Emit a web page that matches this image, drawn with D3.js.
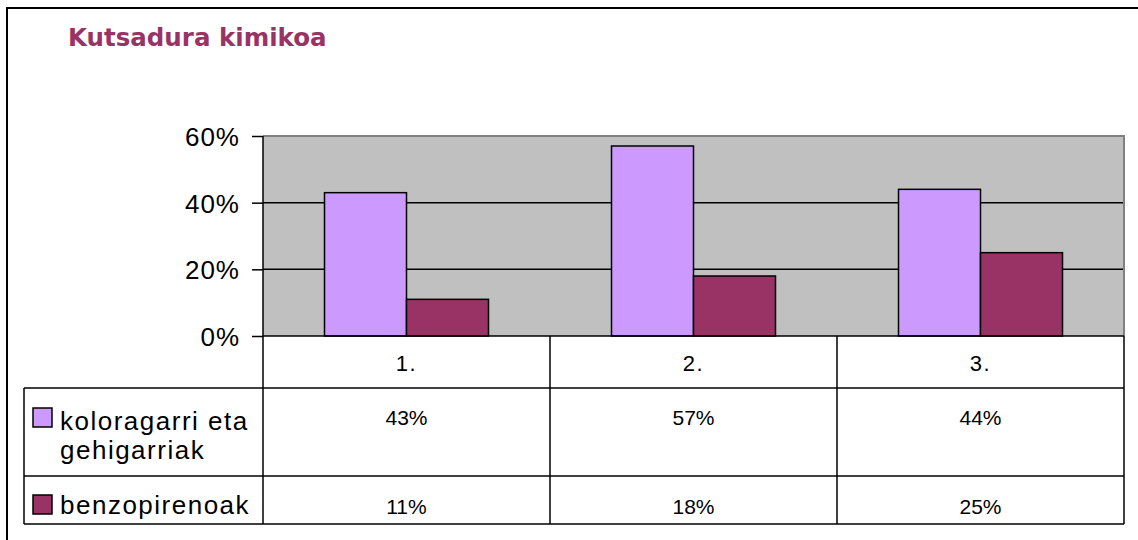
<!DOCTYPE html>
<html>
<head>
<meta charset="utf-8">
<script src="https://cdn.jsdelivr.net/npm/d3@7"></script>
<style>
  body { margin: 0; background: #fff; }
  svg text { font-family: "Liberation Sans", Arial, sans-serif; fill: #000; }
  .title { font-family: "DejaVu Sans", Verdana, sans-serif; font-weight: bold; fill: #993366; }
</style>
</head>
<body>
<div id="chart"></div>
<script>
var categories = ["1.", "2.", "3."];
var seriesNames = ["koloragarri eta gehigarriak", "benzopirenoak"];
var seriesLines = [["koloragarri eta", "gehigarriak"], ["benzopirenoak"]];
var koloragarri = [43, 57, 44];
var benzopirenoak = [11, 18, 25];
var yTicks = [0, 20, 40, 60];
var colors = ["#CC99FF", "#993366"];

function drawChart(div) {

  var width = 1138, height = 540;

  // Plot area and data table boundaries
  var plot = { left: 263, right: 1124, top: 136, bottom: 336 };
  var table = { left: 24, rowCat: 388, rowA: 476, rowB: 524 };

  var svg = d3.select(div)
    .append("svg")
    .attr("width", width)
    .attr("height", height);

  // Outer frame
  svg.append("rect")
    .attr("x", 7)
    .attr("y", 8)
    .attr("width", 1160)
    .attr("height", 560)
    .attr("fill", "none")
    .attr("stroke", "#000")
    .attr("stroke-width", 2);

  svg.append("text")
    .attr("class", "title")
    .attr("x", 68)
    .attr("y", 46)
    .style("font-size", "24.5px")
    .text("Kutsadura kimikoa");

  // Scales
  var yScale = d3.scaleLinear()
    .domain([0, 60])
    .range([plot.bottom, plot.top]);

  var x0 = d3.scaleBand()
    .domain(categories)
    .range([plot.left, plot.right]);

  var x1 = d3.scaleBand()
    .domain(seriesNames)
    .range([0, x0.bandwidth()])
    .paddingInner(0)
    .paddingOuter(0.75);

  var values = [koloragarri, benzopirenoak];

  // Plot background
  svg.append("rect")
    .attr("x", plot.left)
    .attr("y", plot.top)
    .attr("width", plot.right - plot.left)
    .attr("height", plot.bottom - plot.top)
    .attr("fill", "#C0C0C0");

  // Gridlines
  svg.selectAll(".grid")
    .data(yTicks.filter(function(d) { return d > 0 && d < 60; }))
    .enter().append("line")
    .attr("class", "grid")
    .attr("x1", plot.left)
    .attr("x2", plot.right)
    .attr("y1", function(d) { return yScale(d); })
    .attr("y2", function(d) { return yScale(d); })
    .attr("stroke", "#000")
    .attr("stroke-width", 1.5);

  // Gray top and right border of plot
  svg.append("path")
    .attr("d", "M" + plot.left + "," + plot.top + "H" + plot.right + "V" + plot.bottom)
    .attr("fill", "none")
    .attr("stroke", "#808080")
    .attr("stroke-width", 2);

  // Bars
  seriesNames.forEach(function(name, si) {
    svg.selectAll(".bar-" + si)
      .data(values[si])
      .enter().append("rect")
      .attr("class", "bar-" + si)
      .attr("x", function(d, i) { return x0(categories[i]) + x1(name); })
      .attr("y", function(d) { return yScale(d); })
      .attr("width", x1.bandwidth())
      .attr("height", function(d) { return yScale(0) - yScale(d); })
      .attr("fill", colors[si])
      .attr("stroke", "#000")
      .attr("stroke-width", 1.5);
  });

  // Y axis
  var yAxis = d3.axisLeft(yScale)
    .tickValues(yTicks)
    .tickSizeInner(11)
    .tickSizeOuter(0)
    .tickPadding(12)
    .tickFormat(function(d) { return d + "%"; });

  var yG = svg.append("g")
    .attr("class", "axis y-axis")
    .attr("transform", "translate(" + plot.left + ",0)")
    .call(yAxis);

  yG.select(".domain").remove();
  yG.selectAll(".tick line").attr("stroke", "#000").attr("stroke-width", 1.5);
  yG.selectAll(".tick text")
    .attr("dy", "0.36em")
    .style("font-family", "'Liberation Sans', Arial, sans-serif")
    .style("font-size", "26px")
    .style("letter-spacing", "1px")
    .attr("fill", "#000");

  // Table lines
  var lines = svg.append("g")
    .attr("stroke", "#000")
    .attr("stroke-width", 1.5)
    .attr("fill", "none");

  // Axis line continues down through the table
  lines.append("line")
    .attr("x1", plot.left).attr("x2", plot.left)
    .attr("y1", plot.top).attr("y2", table.rowB);

  lines.append("line")
    .attr("x1", plot.left).attr("x2", plot.right)
    .attr("y1", plot.bottom).attr("y2", plot.bottom);

  lines.selectAll(".vdiv")
    .data(categories)
    .enter().append("line")
    .attr("class", "vdiv")
    .attr("x1", function(d) { return x0(d) + x0.bandwidth(); })
    .attr("x2", function(d) { return x0(d) + x0.bandwidth(); })
    .attr("y1", plot.bottom)
    .attr("y2", table.rowB);

  lines.append("line")
    .attr("x1", table.left).attr("x2", table.left)
    .attr("y1", table.rowCat).attr("y2", table.rowB);

  lines.selectAll(".hrow")
    .data([table.rowCat, table.rowA, table.rowB])
    .enter().append("line")
    .attr("class", "hrow")
    .attr("x1", table.left)
    .attr("x2", plot.right)
    .attr("y1", function(d) { return d; })
    .attr("y2", function(d) { return d; });

  // Category labels
  svg.selectAll(".cat-label")
    .data(categories)
    .enter().append("text")
    .attr("class", "cat-label")
    .attr("x", function(d) { return x0(d) + x0.bandwidth() / 2; })
    .attr("y", 371)
    .attr("text-anchor", "middle")
    .style("font-size", "22px")
    .style("letter-spacing", "1.5px")
    .text(function(d) { return d; });

  // Row values
  var rowBaselines = [425, 514];
  seriesNames.forEach(function(name, si) {
    svg.selectAll(".val-" + si)
      .data(values[si])
      .enter().append("text")
      .attr("class", "val-" + si)
      .attr("x", function(d, i) { return x0(categories[i]) + x0.bandwidth() / 2; })
      .attr("y", rowBaselines[si])
      .attr("text-anchor", "middle")
      .style("font-size", "21px")
      .text(function(d) { return d + "%"; });
  });

  // Legend keys and names
  var keyTops = [408, 495];
  var labelBaselines = [[430, 459], [514]];
  seriesNames.forEach(function(name, si) {
    svg.append("rect")
      .attr("x", 33)
      .attr("y", keyTops[si])
      .attr("width", 19)
      .attr("height", 19)
      .attr("fill", colors[si])
      .attr("stroke", "#000")
      .attr("stroke-width", 1.5);

    seriesLines[si].forEach(function(line, li) {
      svg.append("text")
        .attr("x", 60)
        .attr("y", labelBaselines[si][li])
        .style("font-size", "26px")
        .style("letter-spacing", "1.5px")
        .text(line);
    });
  });
}

drawChart("#chart");
</script>
</body>
</html>
